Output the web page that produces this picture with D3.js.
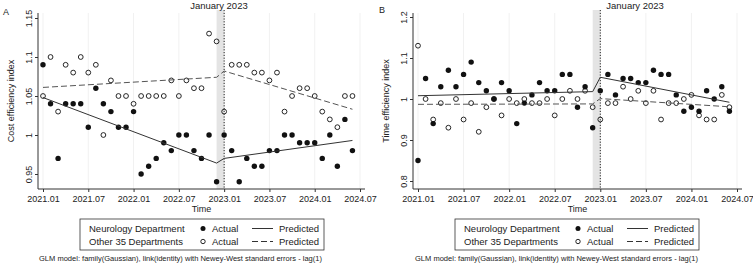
<!DOCTYPE html>
<html lang="en">
<head>
<meta charset="UTF-8">
<title>Cost and time efficiency index</title>
<style>
  body { margin: 0; background: #fff; }
  svg { display: block; font-family: "Liberation Sans", Arial, sans-serif; }
</style>
</head>
<body>
<div id="chart"></div>
<script src="https://d3js.org/d3.v7.min.js"></script>
<script>
// month index 0 = 2021.01 ... 41 = 2024.06
const xTickMonths = [0, 6, 12, 18, 24, 30, 36, 42];
const xTickLabels = ["2021.01", "2021.07", "2022.01", "2022.07", "2023.01", "2023.07", "2024.01", "2024.07"];

const costTicks = [0.95, 1, 1.05, 1.1, 1.15];
const costTickLabels = ["0.95", "1", "1.05", "1.1", "1.15"];
const timeTicks = [0.8, 0.9, 1, 1.1, 1.2];
const timeTickLabels = ["0.8", "0.9", "1", "1.1", "1.2"];

// Panel A - cost efficiency index
const costNeuro = [1.09, 1.04, 0.97, 1.04, 1.04, 1.04, 1.01, 1.06, 1.04, 1.03, 1.01, 1.01,
                   1.03, 0.95, 0.96, 0.97, 0.99, 0.98, 1.00, 1.00, 0.98, 0.97, 1.00, 0.94,
                   1.00, 0.98, 0.94, 0.97, 0.96, 0.96, 0.98, 0.98, 1.00, 1.00, 0.99, 0.99,
                   0.99, 0.97, 1.00, 0.96, 1.02, 0.98];
const costOther = [1.05, 1.10, 1.03, 1.09, 1.08, 1.10, 1.08, 1.09, 1.00, 1.07, 1.05, 1.05,
                   1.04, 1.05, 1.05, 1.05, 1.05, 1.07, 1.05, 1.07, 1.06, 1.06, 1.13, 1.12,
                   1.03, 1.09, 1.09, 1.09, 1.08, 1.08, 1.07, 1.08, 1.03, 1.05, 1.06, 1.06,
                   1.05, 1.03, 1.02, 1.01, 1.05, 1.05];

// Panel B - time efficiency index
const timeNeuro = [0.85, 1.05, 0.94, 1.03, 1.07, 1.03, 1.06, 1.09, 1.04, 1.02, 1.00, 1.04,
                   1.02, 0.94, 0.99, 1.01, 1.04, 1.02, 1.02, 1.06, 1.06, 0.98, 1.03, 0.93,
                   1.02, 1.06, 1.01, 1.05, 1.05, 1.04, 1.04, 1.07, 1.06, 1.06, 1.01, 0.97,
                   0.98, 0.97, 1.02, 1.00, 1.03, 0.97];
const timeOther = [1.13, 1.00, 0.95, 0.99, 0.93, 1.00, 0.95, 0.99, 0.92, 0.98, 1.00, 0.96,
                   1.00, 0.99, 1.00, 0.99, 0.99, 1.00, 0.96, 1.00, 1.02, 1.00, 1.02, 0.98,
                   0.95, 0.99, 0.99, 1.03, 1.00, 1.02, 0.99, 1.02, 0.95, 0.99, 0.99, 1.00,
                   1.01, 0.96, 0.95, 0.95, 1.01, 0.98];

// predicted (segmented regression) line, break between month 23 and 24
const fitMonths = [0, 23, 24, 41];
const costNeuroFit = [1.048, 0.964, 0.970, 0.993];
const costOtherFit = [1.061, 1.074, 1.082, 1.033];
const timeNeuroFit = [1.008, 1.018, 1.053, 0.992];
const timeOtherFit = [0.987, 0.988, 1.001, 0.981];

const interventionMonth = 24;
const shadeStart = 23;

const svg = d3.select("#chart").append("svg")
    .attr("width", 753)
    .attr("height", 267);

function drawPanel(o) {
    const g = svg.append("g");

    const x = d3.scaleLinear().domain([0, 42]).range(o.xRange);
    const y = d3.scaleLinear().domain(o.yDomain).range(o.yRange);

    // faint grid
    g.selectAll(".grid")
        .data(xTickMonths)
        .enter().append("line")
        .attr("x1", d => x(d)).attr("x2", d => x(d))
        .attr("y1", o.top).attr("y2", o.bottom)
        .attr("stroke", "#f1f1f1");

    // shaded transition band + dotted line
    g.append("rect")
        .attr("x", x(shadeStart))
        .attr("y", o.top - 3)
        .attr("width", x(interventionMonth) - x(shadeStart))
        .attr("height", o.bottom - o.top + 3)
        .attr("fill", "#e4e4e4");
    g.append("line")
        .attr("x1", x(interventionMonth)).attr("x2", x(interventionMonth))
        .attr("y1", o.top - 3).attr("y2", o.bottom)
        .attr("stroke", "#222")
        .attr("stroke-dasharray", "1.2,1.6");
    g.append("text")
        .attr("x", x(interventionMonth) + o.labelShift)
        .attr("y", 9)
        .attr("font-size", "9.5px")
        .attr("fill", "#222")
        .text("January 2023");

    // axes
    const xAxis = g.append("g")
        .attr("transform", `translate(0,${o.bottom})`)
        .call(d3.axisBottom(x).tickValues(xTickMonths)
            .tickFormat((d, i) => xTickLabels[i]).tickSize(3).tickPadding(4));
    xAxis.select(".domain").remove();
    xAxis.selectAll("text").attr("font-size", "9px").attr("fill", "#222");
    xAxis.selectAll("line").attr("stroke", "#333");
    g.append("line")
        .attr("x1", o.left).attr("x2", o.right)
        .attr("y1", o.bottom).attr("y2", o.bottom)
        .attr("stroke", "#333");

    const yAxis = g.append("g")
        .attr("transform", `translate(${o.left},0)`)
        .call(d3.axisLeft(y).tickValues(o.yTicks)
            .tickFormat((d, i) => o.yTickLabels[i]).tickSize(3));
    yAxis.select(".domain").remove();
    yAxis.selectAll("line").attr("stroke", "#333");
    yAxis.selectAll("text")
        .attr("transform", "rotate(-90)")
        .attr("x", 0).attr("y", -6).attr("dy", 0)
        .attr("text-anchor", "middle")
        .attr("font-size", "9px").attr("fill", "#222");
    g.append("line")
        .attr("x1", o.left).attr("x2", o.left)
        .attr("y1", o.top).attr("y2", o.bottom)
        .attr("stroke", "#333");

    g.append("text")
        .attr("transform", `translate(${o.left - 24},${(o.top + o.bottom) / 2}) rotate(-90)`)
        .attr("text-anchor", "middle")
        .attr("font-size", "9px").attr("fill", "#222")
        .text(o.yTitle);
    g.append("text")
        .attr("x", (o.left + o.right) / 2)
        .attr("y", 212)
        .attr("text-anchor", "middle")
        .attr("font-size", "9px").attr("fill", "#222")
        .text("Time");
    g.append("text")
        .attr("x", o.panelX).attr("y", o.panelY)
        .attr("font-size", "9px").attr("fill", "#222")
        .text(o.panel);

    // points
    g.selectAll(".other")
        .data(o.other)
        .enter().append("circle")
        .attr("cx", (d, i) => x(i))
        .attr("cy", d => y(d))
        .attr("r", 2.4)
        .attr("fill", "none")
        .attr("stroke", "#111")
        .attr("stroke-width", 0.9);
    g.selectAll(".neuro")
        .data(o.neuro)
        .enter().append("circle")
        .attr("cx", (d, i) => x(i))
        .attr("cy", d => y(d))
        .attr("r", 2.7)
        .attr("fill", "#111");

    // predicted lines
    const line = d3.line()
        .x(d => x(d[0]))
        .y(d => y(d[1]));
    g.append("path")
        .attr("d", line(fitMonths.map((m, i) => [m, o.neuroFit[i]])))
        .attr("fill", "none")
        .attr("stroke", "#333")
        .attr("stroke-width", 1);
    g.append("path")
        .attr("d", line(fitMonths.map((m, i) => [m, o.otherFit[i]])))
        .attr("fill", "none")
        .attr("stroke", "#555")
        .attr("stroke-width", 1)
        .attr("stroke-dasharray", "6,3");

    // legend
    const lg = g.append("g").attr("transform", `translate(${o.legendX},219)`);
    lg.append("rect")
        .attr("width", 244).attr("height", 31)
        .attr("fill", "#fff").attr("stroke", "#333").attr("stroke-width", 0.8);
    const rows = [
        { label: "Neurology Department", dash: null, filled: true },
        { label: "Other 35 Departments", dash: "6,3", filled: false }
    ];
    rows.forEach((r, i) => {
        const ry = 9.5 + i * 13;
        lg.append("text").attr("x", 9).attr("y", ry + 3.5)
            .attr("font-size", "9.5px").attr("fill", "#222").text(r.label);
        lg.append("circle").attr("cx", 123).attr("cy", ry)
            .attr("r", r.filled ? 2.5 : 2.2)
            .attr("fill", r.filled ? "#111" : "none")
            .attr("stroke", "#111").attr("stroke-width", r.filled ? 0 : 0.9);
        lg.append("text").attr("x", 132).attr("y", ry + 3.5)
            .attr("font-size", "9.5px").attr("fill", "#222").text("Actual");
        lg.append("line").attr("x1", 172).attr("x2", 193)
            .attr("y1", ry).attr("y2", ry)
            .attr("stroke", "#333").attr("stroke-width", 1)
            .attr("stroke-dasharray", r.dash);
        lg.append("text").attr("x", 199).attr("y", ry + 3.5)
            .attr("font-size", "9.5px").attr("fill", "#222").text("Predicted");
    });

    // model note, stretched to the width it takes in the original
    g.append("text")
        .attr("x", o.noteX).attr("y", 261)
        .attr("font-size", "7.5px").attr("fill", "#222")
        .attr("textLength", 283)
        .attr("lengthAdjust", "spacingAndGlyphs")
        .text("GLM model: family(Gaussian), link(identity) with Newey-West standard errors - lag(1)");
}

drawPanel({
    panel: "A", panelX: 3, panelY: 15,
    left: 38, right: 365, top: 13, bottom: 189,
    xRange: [43, 360],
    yDomain: [0.95, 1.15], yRange: [174, 18],
    yTicks: costTicks, yTickLabels: costTickLabels,
    yTitle: "Cost efficiency index",
    neuro: costNeuro, other: costOther,
    neuroFit: costNeuroFit, otherFit: costOtherFit,
    labelShift: -34, legendX: 80, noteX: 39
});

drawPanel({
    panel: "B", panelX: 379, panelY: 13,
    left: 413, right: 742, top: 13, bottom: 189,
    xRange: [418, 737],
    yDomain: [0.8, 1.2], yRange: [181, 17],
    yTicks: timeTicks, yTickLabels: timeTickLabels,
    yTitle: "Time efficiency index",
    neuro: timeNeuro, other: timeOther,
    neuroFit: timeNeuroFit, otherFit: timeOtherFit,
    labelShift: 6, legendX: 455, noteX: 415
});
</script>
</body>
</html>
